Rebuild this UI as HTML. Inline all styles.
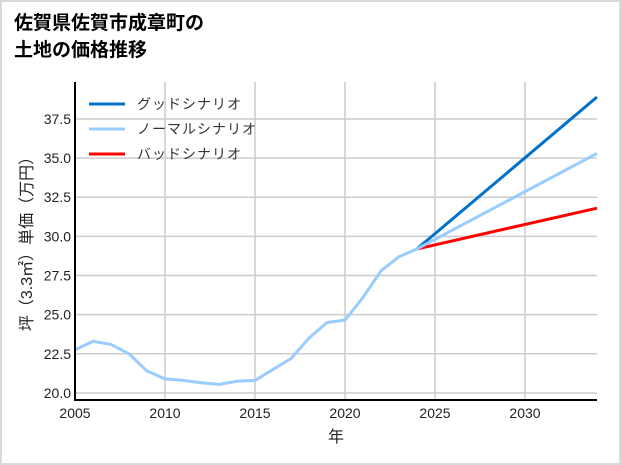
<!DOCTYPE html>
<html><head><meta charset="utf-8"><style>
body{margin:0;background:#fff}
#wrap{position:relative;width:617px;height:461px;border:2px solid #d9d9d9;overflow:hidden;background:#fff}
svg text{font-family:"Liberation Sans","Noto Sans CJK JP",sans-serif}
</style></head><body>
<div id="wrap">
<svg id="c" width="621" height="465" style="position:absolute;left:-2px;top:-2px">
<text x="14" y="29" font-size="19" font-weight="bold" fill="#000">佐賀県佐賀市成章町の</text>
<text x="14" y="56" font-size="19" font-weight="bold" fill="#000">土地の価格推移</text>
</svg>
</div>
<script>
const years=[2005,2006,2007,2008,2009,2010,2011,2012,2013,2014,2015,2016,2017,2018,2019,2020,2021,2022,2023,2024];
const normalHist=[22.75,23.3,23.1,22.5,21.4,20.9,20.8,20.65,20.55,20.75,20.8,21.5,22.2,23.5,24.5,24.65,26.1,27.8,28.7,29.2];
const scenarioYears=[2024,2034];
const goodVals=[29.2,38.9];
const normalVals=[29.2,35.3];
const badVals=[29.2,31.8];
const xTicks=[2005,2010,2015,2020,2025,2030];
const yTicks=[20.0,22.5,25.0,27.5,30.0,32.5,35.0,37.5];
const legendLabels=["グッドシナリオ","ノーマルシナリオ","バッドシナリオ"];
const colors=["#0072cc","#99ccff","#ff0000"];

const L=75,R=597,T=82,B=400,x0=2005,x1=2034,y0=19.55,y1=39.86;
const X=v=>L+(v-x0)/(x1-x0)*(R-L);
const Y=v=>B-(v-y0)/(y1-y0)*(B-T);
const svg=document.getElementById('c');const NS='http://www.w3.org/2000/svg';
function mk(t,a,p){const e=document.createElementNS(NS,t);for(const k in a)e.setAttribute(k,a[k]);(p||svg).appendChild(e);return e;}

xTicks.forEach(v=>{
 const g=mk('line',{x1:X(v),x2:X(v),y1:T,y2:B,stroke:'#cccccc','stroke-width':1.5});
 
 
 const t=mk('text',{x:X(v),y:B+18,'font-size':14,'text-anchor':'middle',fill:'#222'});t.textContent=v;
 
 
});
yTicks.forEach(v=>{
 const g=mk('line',{x1:L,x2:R,y1:Y(v),y2:Y(v),stroke:'#cccccc','stroke-width':1.5});
 
 
 const t=mk('text',{x:L-4,y:Y(v)+5,'font-size':14,'text-anchor':'end',fill:'#222'});t.textContent=v.toFixed(1);
 
 
});
function line(xs,ys,c,name){
 const p=mk('polyline',{points:xs.map((x,i)=>X(x)+','+Y(ys[i])).join(' '),fill:'none',stroke:c,'stroke-width':3,'stroke-linejoin':'round'});
 
 
}
line(scenarioYears,goodVals,colors[0],'good-scenario-line');
line(scenarioYears,badVals,colors[2],'bad-scenario-line');
line(scenarioYears,normalVals,colors[1],'normal-scenario-line');
line(years,normalHist,colors[1],'historical-price-line');

const ax1=mk('line',{x1:L,x2:L,y1:T,y2:B+1,stroke:'#000','stroke-width':2});


const ax2=mk('line',{x1:L-1,x2:R,y1:B,y2:B,stroke:'#000','stroke-width':2});



legendLabels.forEach((s,i)=>{
 const y=104+i*25;
 const l=mk('line',{x1:89,x2:125,y1:y,y2:y,stroke:colors[i],'stroke-width':3});
 
 
 const t=mk('text',{x:137,y:y+5,'font-size':14,'letter-spacing':1,fill:'#333'});t.textContent=s;
 
 
});
const xl=mk('text',{x:336,y:442,'font-size':16,'text-anchor':'middle',fill:'#222'});xl.textContent='年';


const yl=mk('text',{x:0,y:0,'font-size':16,'text-anchor':'middle',fill:'#222',transform:'translate(32,240) rotate(-90)'});yl.textContent='坪（3.3㎡）単価（万円）';


</script>
</body></html>
